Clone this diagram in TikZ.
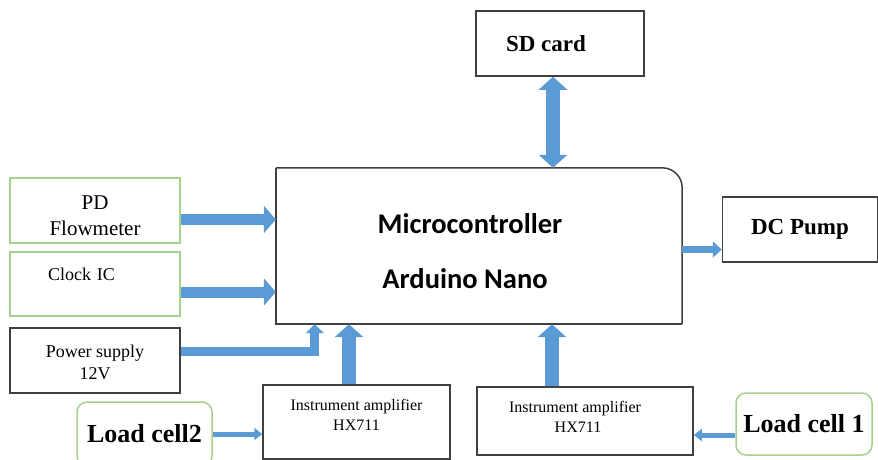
\documentclass[tikz,border=0pt]{standalone}
\usepackage{fontspec}
\setmainfont{Liberation Serif}
\newfontfamily\calibri{Carlito}
\usetikzlibrary{arrows.meta}
\definecolor{arrowblue}{RGB}{91,155,213}
\definecolor{boxgray}{RGB}{64,64,64}
\definecolor{boxgreen}{RGB}{169,209,142}
\tikzstyle{blockstyle}=[draw=boxgray, line width=1.5pt, fill=white, align=center, inner sep=0pt]
\tikzstyle{plainbox} = [blockstyle, font=\fontsize{18}{22}\selectfont]
\tikzstyle{greenbox} = [plainbox, draw=boxgreen]
\tikzstyle{titlebox} = [blockstyle, font=\fontsize{23}{27}\selectfont\bfseries]
\tikzstyle{cellbox} = [greenbox, rounded corners=10pt, font=\fontsize{26}{29}\selectfont\bfseries]
\tikzstyle{ampbox} = [blockstyle, font=\fontsize{16}{20}\selectfont]
\tikzstyle{bigarrow}=[draw=arrowblue, line width=14pt, -{Triangle[width=28pt,length=13pt]}]
\tikzstyle{midarrow}=[draw=arrowblue, line width=11pt, -{Triangle[width=27pt,length=12pt]}]
\tikzstyle{smallarrow}=[draw=arrowblue, line width=7pt, -{Triangle[width=16pt,length=9pt]}]
\tikzstyle{thinarrow}=[draw=arrowblue, line width=5pt, -{Triangle[width=12pt,length=8pt]}]
% move a line of text up or down, keeping its box
\newcommand{\lift}[2]{\raisebox{#1}[\height][\depth]{#2}}

\begin{document}
\begin{tikzpicture}[x=1pt, y=-1pt]
\useasboundingbox[fill=white] (0,0) rectangle (878,460);

% Draw diagram elements
\node (mcu) [minimum width=406pt, minimum height=156pt, inner sep=0pt,
  font=\calibri\bfseries\fontsize{28.5}{55}\selectfont, align=center] at (479,246)
  {\lift{-5pt}{Microcontroller}\hspace*{18pt}\\\lift{-5pt}{Arduino Nano}\hspace*{28pt}};
\node (sd) [titlebox, minimum width=168pt, minimum height=65pt] at (560,43.5) {SD card\hspace*{28pt}};
\node (pump) [titlebox, minimum width=155pt, minimum height=65pt] at (800,229.5) {DC Pump};
\node (pd) [greenbox, minimum width=170pt, minimum height=65pt, font=\fontsize{21}{26}\selectfont] at (95,210.5)
  {\lift{-5pt}{PD}\\\lift{-5pt}{Flowmeter}};
\node (clock) [greenbox, minimum width=170pt, minimum height=64pt, text width=94pt, align=left,
  text height=12pt, text depth=20pt] at (95,284) {Clock IC};
\node (power) [plainbox, minimum width=170pt, minimum height=65pt] at (95,360.5)
  {\lift{-2pt}{Power supply}\\\lift{-2pt}{12V}};
\node (amp1) [ampbox, minimum width=187pt, minimum height=74pt] at (356.5,422)
  {\lift{7pt}{Instrument amplifier}\\\lift{7pt}{HX711}};
\node (amp2) [ampbox, minimum width=216pt, minimum height=68pt] at (585,421)
  {\lift{4pt}{Instrument amplifier}\hspace*{20pt}\\\lift{4pt}{HX711}\hspace*{14pt}};
\node (lc2) [cellbox, minimum width=135pt, minimum height=64pt] at (144.5,434) {Load cell2};
\node (lc1) [cellbox, minimum width=136pt, minimum height=62pt] at (804,424) {Load cell 1};

% Microcontroller outline, only one round corner
\draw [draw=boxgray, line width=1.5pt] (mcu.south east) -- (mcu.south west) -- (mcu.north west);
\draw [draw=boxgray, line width=1.5pt, rounded corners=20pt] (mcu.north west) -- (mcu.north east) -- (mcu.south east);

% Draw arrows between elements
\draw [bigarrow, {Triangle[width=28pt,length=13pt]}-{Triangle[width=28pt,length=13pt]}]
  ([xshift=-7pt]sd.south) -- ([xshift=-7pt]sd.south |- mcu.north);
\draw [midarrow] ([yshift=-9pt]pd.east) -- ([yshift=-9pt]pd.east -| mcu.west);
\draw [midarrow] ([yshift=-8pt]clock.east) -- ([yshift=-8pt]clock.east -| mcu.west);
\draw [draw=arrowblue, line width=9pt, -{Triangle[width=18pt,length=9pt]}]
  ([yshift=9.5pt]power.east) -| ([xshift=39pt]mcu.south west);
\draw [bigarrow] ([xshift=-7.5pt]amp1.north) -- ([xshift=-7.5pt]amp1.north |- mcu.south);
\draw [bigarrow] ([xshift=-33pt]amp2.north) -- ([xshift=-33pt]amp2.north |- mcu.south);
\draw [smallarrow] ([yshift=-3.5pt]mcu.east) -- ([yshift=-3.5pt]mcu.east -| pump.west);
\draw [thinarrow] (lc2.east) -- (lc2.east -| amp1.west);
\draw [thinarrow] ([yshift=-11pt]lc1.west) -- ([yshift=-11pt]lc1.west -| amp2.east);
\end{tikzpicture}
\end{document}
